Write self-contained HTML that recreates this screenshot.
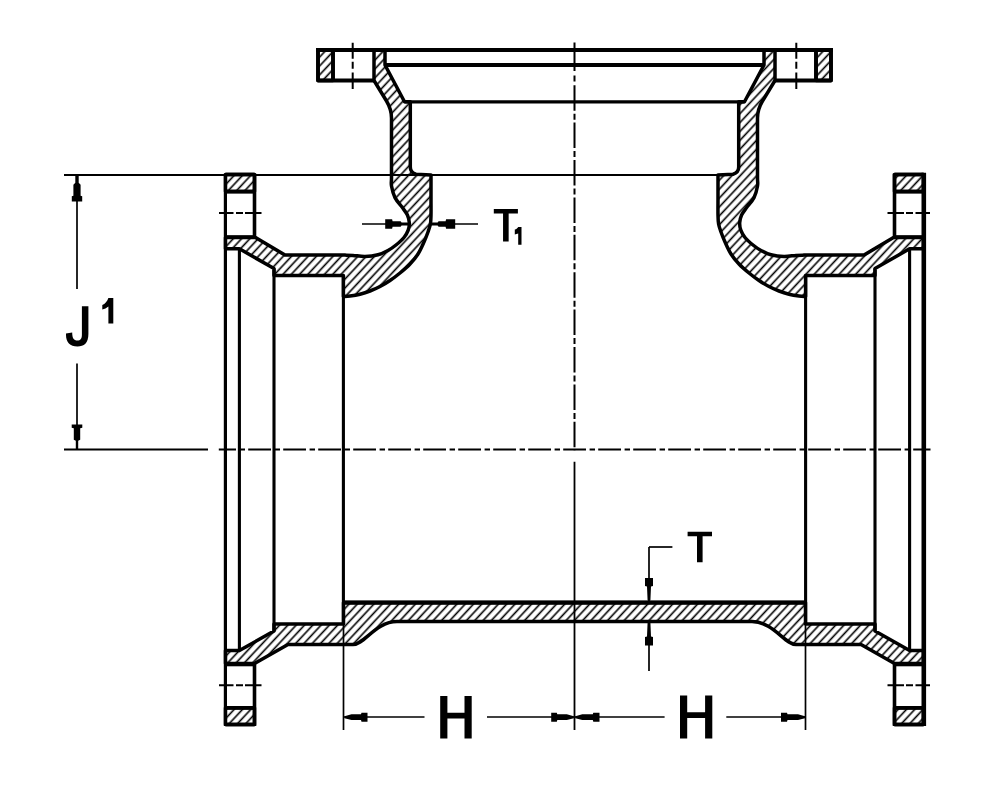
<!DOCTYPE html>
<html><head><meta charset="utf-8"><style>
html,body{margin:0;padding:0;background:#fff;}
svg{display:block;}
</style></head><body>
<svg width="1000" height="798" viewBox="0 0 1000 798">
<defs>
<pattern id="hatch" patternUnits="userSpaceOnUse" width="6.07" height="6.07" patternTransform="rotate(43)">
<line x1="5.6" y1="-1" x2="5.6" y2="8" stroke="#000" stroke-width="1.6"/>
<line x1="-0.47" y1="-1" x2="-0.47" y2="8" stroke="#000" stroke-width="1.6"/>
</pattern>
</defs>
<rect width="1000" height="798" fill="#fff"/>
<path d="M318,50 L333,50 L333,80.5 L318,80.5 Z" fill="url(#hatch)" stroke="#000" stroke-width="3.5" stroke-linejoin="round" />
<path d="M 831 50 L 816 50 L 816 80.5 L 831 80.5 Z" fill="url(#hatch)" stroke="#000" stroke-width="3.5" stroke-linejoin="round" />
<path d="M225.5,174.5 L254.5,174.5 L254.5,191.6 L225.5,191.6 Z" fill="url(#hatch)" stroke="#000" stroke-width="3.5" stroke-linejoin="round" />
<path d="M 923.5 174.5 L 894.5 174.5 L 894.5 191.6 L 923.5 191.6 Z" fill="url(#hatch)" stroke="#000" stroke-width="3.5" stroke-linejoin="round" />
<path d="M225.5,707.8 L254.5,707.8 L254.5,724.5 L225.5,724.5 Z" fill="url(#hatch)" stroke="#000" stroke-width="3.5" stroke-linejoin="round" />
<path d="M 923.5 707.8 L 894.5 707.8 L 894.5 724.5 L 923.5 724.5 Z" fill="url(#hatch)" stroke="#000" stroke-width="3.5" stroke-linejoin="round" />
<path d="M374,50 L374,80.5 L386.5,101 C389.5,106 391.5,110 391.5,118 L391.5,160 C391.50,163.00 391.50,173.67 391.50,178.00 C391.50,182.33 390.92,182.73 391.50,186.00 C392.08,189.27 393.18,194.00 395.00,197.60 C396.82,201.20 400.33,204.70 402.40,207.60 C404.47,210.50 406.25,212.50 407.40,215.00 C408.55,217.50 409.17,220.07 409.30,222.60 C409.43,225.13 409.08,227.72 408.20,230.20 C407.32,232.68 406.03,235.03 404.00,237.50 C401.97,239.97 398.67,242.83 396.00,245.00 C393.33,247.17 391.00,248.87 388.00,250.50 C385.00,252.13 381.83,253.80 378.00,254.80 C374.17,255.80 369.17,256.40 365.00,256.50 C360.83,256.60 356.33,255.63 353.00,255.40 C349.67,255.17 346.33,255.15 345.00,255.10 L285,255.1 L255.5,237.5 L225.5,237.5 L225.5,248.8 L239.4,248.8 L274,268.5 L274,275.5 L343.4,275.5 L343.4,296.6 C344.50,296.52 347.23,296.50 350.00,296.10 C352.77,295.70 356.67,295.05 360.00,294.20 C363.33,293.35 366.67,292.28 370.00,291.00 C373.33,289.72 376.67,288.25 380.00,286.50 C383.33,284.75 386.67,282.75 390.00,280.50 C393.33,278.25 396.67,275.75 400.00,273.00 C403.33,270.25 407.00,267.17 410.00,264.00 C413.00,260.83 415.67,257.67 418.00,254.00 C420.33,250.33 422.33,245.67 424.00,242.00 C425.67,238.33 426.93,235.00 428.00,232.00 C429.07,229.00 429.90,226.83 430.40,224.00 C430.90,221.17 430.90,219.00 431.00,215.00 C431.10,211.00 431.00,202.50 431.00,200.00 L431,175 L416,174.2 C412,173 410.3,171 410.3,167 L410.3,101.8 L404.5,101.8 L385,65 L385,50 Z" fill="url(#hatch)" stroke="#000" stroke-width="3.5" stroke-linejoin="round" />
<path d="M 775 50 L 775 80.5 L 762.5 101 C 759.5 106 757.5 110 757.5 118 L 757.5 160 C 757.5 163 757.5 173.67 757.5 178 C 757.5 182.33 758.08 182.73 757.5 186 C 756.92 189.27 755.82 194 754 197.6 C 752.18 201.2 748.67 204.7 746.6 207.6 C 744.53 210.5 742.75 212.5 741.6 215 C 740.45 217.5 739.83 220.07 739.7 222.6 C 739.57 225.13 739.92 227.72 740.8 230.2 C 741.68 232.68 742.97 235.03 745 237.5 C 747.03 239.97 750.33 242.83 753 245 C 755.67 247.17 758 248.87 761 250.5 C 764 252.13 767.17 253.8 771 254.8 C 774.83 255.8 779.83 256.4 784 256.5 C 788.17 256.6 792.67 255.63 796 255.4 C 799.33 255.17 802.67 255.15 804 255.1 L 864 255.1 L 893.5 237.5 L 923.5 237.5 L 923.5 248.8 L 909.6 248.8 L 875 268.5 L 875 275.5 L 805.6 275.5 L 805.6 296.6 C 804.5 296.52 801.77 296.5 799 296.1 C 796.23 295.7 792.33 295.05 789 294.2 C 785.67 293.35 782.33 292.28 779 291 C 775.67 289.72 772.33 288.25 769 286.5 C 765.67 284.75 762.33 282.75 759 280.5 C 755.67 278.25 752.33 275.75 749 273 C 745.67 270.25 742 267.17 739 264 C 736 260.83 733.33 257.67 731 254 C 728.67 250.33 726.67 245.67 725 242 C 723.33 238.33 722.07 235 721 232 C 719.93 229 719.1 226.83 718.6 224 C 718.1 221.17 718.1 219 718 215 C 717.9 211 718 202.5 718 200 L 718 175 L 733 174.2 C 737 173 738.7 171 738.7 167 L 738.7 101.8 L 744.5 101.8 L 764 65 L 764 50 Z" fill="url(#hatch)" stroke="#000" stroke-width="3.5" stroke-linejoin="round" />
<path d="M343.5,602.6 L805.5,602.6 L805.5,624 L875,624 L875,631 L909.6,650.5 L923.5,650.5 L923.5,663.6 L894.5,663.6 L861,644.6 L796,644.6 C785,644.6 773,621.6 752,621.6 L397,621.6 C376,621.6 364,644.6 353,644.6 L288,644.6 L254.5,663.6 L225.5,663.6 L225.5,650.5 L239.4,650.5 L274,631 L274,624 L343.5,624 Z" fill="url(#hatch)" stroke="#000" stroke-width="3.5" stroke-linejoin="round" />
<line x1="316" y1="50" x2="833" y2="50" stroke="#000" stroke-width="4.2" />
<path d="M318,50 L318,80.5 L374,80.5" fill="none" stroke="#000" stroke-width="3.8" stroke-linejoin="round" />
<path d="M 831 50 L 831 80.5 L 775 80.5" fill="none" stroke="#000" stroke-width="3.8" stroke-linejoin="round" />
<line x1="333" y1="50" x2="333" y2="80.5" stroke="#000" stroke-width="3.8" />
<line x1="816.0" y1="50" x2="816.0" y2="80.5" stroke="#000" stroke-width="3.8" />
<line x1="385" y1="65" x2="764" y2="65" stroke="#000" stroke-width="4.2" />
<line x1="343.4" y1="602.6" x2="805.6" y2="602.6" stroke="#000" stroke-width="4.2" />
<line x1="404.5" y1="101.8" x2="744.5" y2="101.8" stroke="#000" stroke-width="3.2" />
<line x1="64" y1="175" x2="718" y2="175" stroke="#000" stroke-width="1.9" />
<line x1="225.4" y1="173.5" x2="225.4" y2="726" stroke="#000" stroke-width="3.2" />
<line x1="923.8" y1="172.8" x2="923.8" y2="726" stroke="#000" stroke-width="4.6" />
<line x1="254.5" y1="173.5" x2="254.5" y2="237.5" stroke="#000" stroke-width="3.6" />
<line x1="894.5" y1="173.5" x2="894.5" y2="237.5" stroke="#000" stroke-width="3.6" />
<line x1="254.5" y1="663.6" x2="254.5" y2="726" stroke="#000" stroke-width="3.6" />
<line x1="894.5" y1="663.6" x2="894.5" y2="726" stroke="#000" stroke-width="3.6" />
<line x1="225.5" y1="191.6" x2="254.5" y2="191.6" stroke="#000" stroke-width="3.8" />
<line x1="923.5" y1="191.6" x2="894.5" y2="191.6" stroke="#000" stroke-width="3.8" />
<line x1="225.5" y1="237" x2="254.5" y2="237" stroke="#000" stroke-width="3.6" />
<line x1="923.5" y1="237" x2="894.5" y2="237" stroke="#000" stroke-width="3.6" />
<line x1="225.5" y1="664.5" x2="254.5" y2="664.5" stroke="#000" stroke-width="3.6" />
<line x1="923.5" y1="664.5" x2="894.5" y2="664.5" stroke="#000" stroke-width="3.6" />
<line x1="225.5" y1="708" x2="254.5" y2="708" stroke="#000" stroke-width="3.6" />
<line x1="923.5" y1="708" x2="894.5" y2="708" stroke="#000" stroke-width="3.6" />
<line x1="225.5" y1="174.5" x2="254.5" y2="174.5" stroke="#000" stroke-width="3.6" />
<line x1="923.5" y1="174.5" x2="894.5" y2="174.5" stroke="#000" stroke-width="3.6" />
<line x1="225.5" y1="724.5" x2="254.5" y2="724.5" stroke="#000" stroke-width="3.6" />
<line x1="923.5" y1="724.5" x2="894.5" y2="724.5" stroke="#000" stroke-width="3.6" />
<line x1="239.4" y1="248.8" x2="239.4" y2="650.5" stroke="#000" stroke-width="3.1" />
<line x1="909.6" y1="248.8" x2="909.6" y2="650.5" stroke="#000" stroke-width="3.1" />
<line x1="274" y1="268.5" x2="274" y2="631" stroke="#000" stroke-width="3.1" />
<line x1="875.0" y1="268.5" x2="875.0" y2="631" stroke="#000" stroke-width="3.1" />
<line x1="343.4" y1="275.5" x2="343.4" y2="624" stroke="#000" stroke-width="3.1" />
<line x1="805.6" y1="275.5" x2="805.6" y2="624" stroke="#000" stroke-width="3.1" />
<path d="M352.7,42.8V58.7 M352.7,61.8V68.7 M352.7,72.5V89" fill="none" stroke="#000" stroke-width="2.0" stroke-linejoin="round" />
<path d="M 796.3 42.8 V 58.7 M 796.3 61.8 V 68.7 M 796.3 72.5 V 89" fill="none" stroke="#000" stroke-width="2.0" stroke-linejoin="round" />
<path d="M219,213H233.5 M236,213H243 M245,213H261.5" fill="none" stroke="#000" stroke-width="2.0" stroke-linejoin="round" />
<path d="M 930 213 H 915.5 M 913 213 H 906 M 904 213 H 887.5" fill="none" stroke="#000" stroke-width="2.0" stroke-linejoin="round" />
<path d="M219,685.2H233.5 M236,685.2H243 M245,685.2H261.5" fill="none" stroke="#000" stroke-width="2.0" stroke-linejoin="round" />
<path d="M 930 685.2 H 915.5 M 913 685.2 H 906 M 904 685.2 H 887.5" fill="none" stroke="#000" stroke-width="2.0" stroke-linejoin="round" />
<path d="M574.5,42.5V71.0 M574.5,75.5V81.5 M574.5,85.2V110.7 M574.5,113.7V119.7 M574.5,122.6V148.1 M574.5,151.1V157.1 M574.5,160.0V185.5 M574.5,188.5V194.5 M574.5,197.4V222.9 M574.5,225.9V231.9 M574.5,234.8V260.3 M574.5,263.3V269.3 M574.5,272.2V297.7 M574.5,300.7V306.7 M574.5,309.6V335.1 M574.5,338.1V344.1 M574.5,347.0V372.5 M574.5,375.5V381.5 M574.5,384.4V409.9 M574.5,412.9V418.9 M574.5,421.8V447.3 M574.5,450.3V450.5" fill="none" stroke="#000" stroke-width="2"/>
<line x1="574.5" y1="461.7" x2="574.5" y2="730" stroke="#000" stroke-width="1.8" />
<line x1="64" y1="449.4" x2="208" y2="449.4" stroke="#000" stroke-width="2.0" />
<path d="M218.8,449.5H236.0 M239.6,449.5H245.0 M248.2,449.5H271.0 M274.6,449.5H280.0 M283.2,449.5H306.0 M309.6,449.5H315.0 M318.2,449.5H341.0 M344.6,449.5H350.0 M353.2,449.5H376.0 M379.6,449.5H385.0 M388.2,449.5H411.0 M414.6,449.5H420.0 M423.2,449.5H446.0 M449.6,449.5H455.0 M458.2,449.5H481.0 M484.6,449.5H490.0 M493.2,449.5H516.0 M519.6,449.5H525.0 M528.2,449.5H551.0 M554.6,449.5H560.0 M563.2,449.5H586.0 M589.6,449.5H595.0 M598.2,449.5H621.0 M624.6,449.5H630.0 M633.2,449.5H656.0 M659.6,449.5H665.0 M668.2,449.5H691.0 M694.6,449.5H700.0 M703.2,449.5H726.0 M729.6,449.5H735.0 M738.2,449.5H761.0 M764.6,449.5H770.0 M773.2,449.5H796.0 M799.6,449.5H805.0 M808.2,449.5H831.0 M834.6,449.5H840.0 M843.2,449.5H866.0 M869.6,449.5H875.0 M878.2,449.5H901.0 M904.6,449.5H910.0 M913.2,449.5H930.5" fill="none" stroke="#000" stroke-width="2"/>
<line x1="77" y1="175" x2="77" y2="289" stroke="#000" stroke-width="1.7" />
<line x1="77" y1="363.5" x2="77" y2="449.4" stroke="#000" stroke-width="1.7" />
<polygon points="78.7,175.3 78.7,182.8 80.6,184.8 80.6,195.8 82.2,196.3 82.2,201.6 71.8,201.6 71.8,196.3 73.4,195.8 73.4,184.8 75.3,182.8 75.3,175.3" fill="#000"/>
<polygon points="75.8,449.2 75.8,440.7 73.8,439.7 73.8,428.2 71.7,427.7 71.7,424.5 82.3,424.5 82.3,427.7 80.2,428.2 80.2,439.7 78.2,440.7 78.2,449.2" fill="#000"/>
<line x1="343.5" y1="624" x2="343.5" y2="730" stroke="#000" stroke-width="1.7" />
<line x1="805.5" y1="624" x2="805.5" y2="730" stroke="#000" stroke-width="1.7" />
<line x1="344" y1="717" x2="424.5" y2="717" stroke="#000" stroke-width="1.7" />
<line x1="487" y1="717" x2="574" y2="717" stroke="#000" stroke-width="1.7" />
<line x1="575" y1="717" x2="664.6" y2="717" stroke="#000" stroke-width="1.7" />
<line x1="726.3" y1="717" x2="805" y2="717" stroke="#000" stroke-width="1.7" />
<polygon points="344.5,716.2 351.5,714.3 361.0,714.3 361.5,712.65 367.5,712.65 367.5,721.75 361.5,721.75 361.0,720.1 351.5,720.1 344.5,718.2" fill="#000"/>
<polygon points="573.8,718.2 566.8,720.1 557.3,720.1 556.8,721.75 551.2,721.75 551.2,712.65 556.8,712.65 557.3,714.3 566.8,714.3 573.8,716.2" fill="#000"/>
<polygon points="575.3,716.2 582.3,714.3 592.8,714.3 593.3,712.65 599.5,712.65 599.5,721.75 593.3,721.75 592.8,720.1 582.3,720.1 575.3,718.2" fill="#000"/>
<polygon points="805,718.2 798.0,720.1 787.5,720.1 787.0,721.75 781.0,721.75 781.0,712.65 787.0,712.65 787.5,714.3 798.0,714.3 805,716.2" fill="#000"/>
<line x1="649" y1="547" x2="672.4" y2="547" stroke="#000" stroke-width="1.7" />
<line x1="649" y1="547" x2="649" y2="601" stroke="#000" stroke-width="1.7" />
<line x1="649" y1="622" x2="649" y2="671" stroke="#000" stroke-width="1.7" />
<polygon points="647.6,600.5 647,586.5 645.0,586.0 645.0,578.0 653.0,578.0 653.0,586.0 651,586.5 650.4,600.5" fill="#000"/>
<polygon points="650.4,622.5 651,636.5 653.0,637.0 653,645.5 645,645.5 645.0,637.0 647,636.5 647.6,622.5" fill="#000"/>
<line x1="362" y1="224" x2="409" y2="224" stroke="#000" stroke-width="1.7" />
<line x1="431" y1="224" x2="478" y2="224" stroke="#000" stroke-width="1.7" />
<polygon points="408.6,225.5 401.6,225.5 400.6,226.8 392.6,226.8 392.1,228.8 385.2,228.8 385.2,219.2 392.1,219.2 392.6,221.2 400.6,221.2 401.6,222.5 408.6,222.5" fill="#000"/>
<polygon points="430.6,222.5 437.6,222.5 438.6,221.2 445.6,221.2 446.1,219.2 455.2,219.2 455.2,228.8 446.1,228.8 445.6,226.8 438.6,226.8 437.6,225.5 430.6,225.5" fill="#000"/>
<path d="M440.2,696h7.2v16.7h17.1v-16.7h7.2v42.39999999999998h-7.2v-19.899999999999977h-17.1v19.899999999999977h-7.2Z" fill="#000"/>
<path d="M680,695.6h7.2v16.7h17.899999999999956v-16.7h7.2v43.0h-7.2v-20.5h-17.899999999999956v20.5h-7.2Z" fill="#000"/>
<path d="M493.8,209.1H517.9V213.5H508.65000000000003V241.4H503.05V213.5H493.8Z" fill="#000"/>
<path d="M687.6,531.8H712V536.1999999999999H702.5999999999999V562.2H697.0V536.1999999999999H687.6Z" fill="#000"/>
<path d="M518.2,226.9 H521.5 V244.8 H518.2 V233.5 L514.8,234.5 V229.5 C516.5,229 517.6,228 518.2,226.9 Z" fill="#000"/>
<path d="M81.9,306.3 H88.4 V334 C88.4,343 84,346.5 77.5,346.5 C70,346.5 66,342 66,335 L66,333.5 L72.2,332.5 C72.2,338.5 74,340.5 77.3,340.5 C80.6,340.5 81.9,338.5 81.9,334.5 Z" fill="#000"/>
<path d="M108.4,298.1 H113.3 V323.4 H108.4 V306.5 C106.5,308 104.5,309 102.3,309.6 V305 C105,304 107.4,301.5 108.4,298.1 Z" fill="#000"/>
</svg>
</body></html>
